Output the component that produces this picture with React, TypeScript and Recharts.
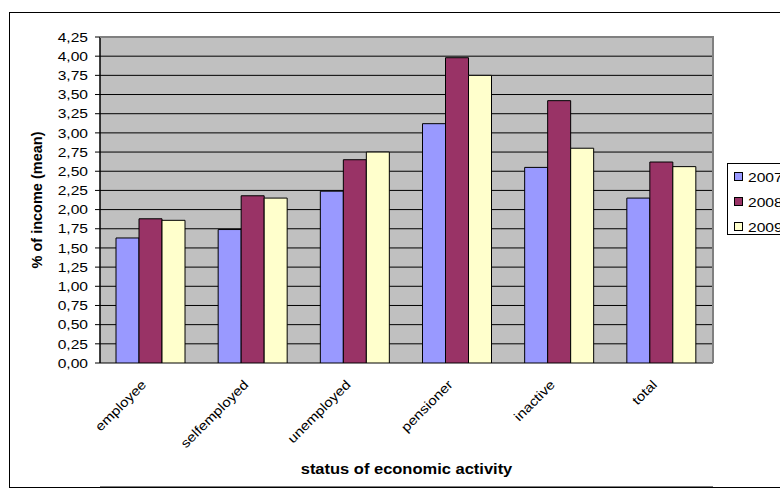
import React from 'react';
import { BarChart, Bar, XAxis, YAxis, CartesianGrid } from 'recharts';

const categories = ['employee', 'selfemployed', 'unemployed', 'pensioner', 'inactive', 'total'];
const values2007 = [1.63, 1.74, 2.24, 3.12, 2.55, 2.15];
const values2008 = [1.88, 2.18, 2.65, 3.98, 3.42, 2.62];
const values2009 = [1.86, 2.15, 2.75, 3.75, 2.8, 2.56];
const seriesNames = ['2007', '2008', '2009'];
const seriesColors = ['#9999FF', '#993366', '#FFFFCC'];
const yTicks = [0, 0.25, 0.5, 0.75, 1, 1.25, 1.5, 1.75, 2, 2.25, 2.5, 2.75, 3, 3.25, 3.5, 3.75, 4, 4.25];
const boundaryTicks = [0, 1, 2, 3, 4, 5, 6];
const yTitle = '% of income (mean)';
const xTitle = 'status of economic activity';

const data = categories.map((name, i) => ({
  name,
  s2007: values2007[i],
  s2008: values2008[i],
  s2009: values2009[i],
}));
const seriesKeys = ['s2007', 's2008', 's2009'];

const FONT = '"Liberation Sans", Arial, sans-serif';
const fmt = (v: number) => v.toFixed(2).replace('.', ',');

const YTick = (props: any) => {
  const { x, y, payload } = props;
  return (
    <text transform={`translate(${x},${y}) scale(1.2,1)`} textAnchor="end" dy="0.36em" fontSize={13} fill="#000" fontFamily={FONT}>
      {fmt(payload.value)}
    </text>
  );
};

const XTick = (props: any) => {
  const { x, y, payload } = props;
  return (
    <text transform={`translate(${x - 4},${y + 22.5}) rotate(-45) scale(1.17,1)`} textAnchor="end" fontSize={13} fill="#000" fontFamily={FONT}>
      {payload.value}
    </text>
  );
};

const EmptyTick = () => <g />;

const YLabel = (props: any) => {
  const vb = props.viewBox || { x: 0, y: 0, width: 0, height: 0 };
  return (
    <text transform={`translate(${vb.x + 42},${vb.y + vb.height / 2}) rotate(-90)`} textAnchor="middle" fontSize={14.5} fontWeight="bold" fill="#000" fontFamily={FONT}>
      {yTitle}
    </text>
  );
};

const XLabel = (props: any) => {
  const vb = props.viewBox || { x: 0, y: 0, width: 0, height: 0 };
  return (
    <text transform={`translate(${vb.x + vb.width / 2},${vb.y + 111}) scale(1.1,1)`} textAnchor="middle" fontSize={15} fontWeight="bold" fill="#000" fontFamily={FONT}>
      {xTitle}
    </text>
  );
};

const LegendBox = () => (
  <div style={{ position: 'absolute', left: 727, top: 163, width: 80, height: 72, border: '1px solid #000', background: '#fff', boxSizing: 'border-box' }}>
    <svg width={80} height={72} style={{ display: 'block' }}>
      {seriesNames.map((n, i) => (
        <g key={n}>
          <rect x={6.5} y={8.5 + i * 25} width={8} height={8} fill={seriesColors[i]} stroke="#000" strokeWidth={1} />
          <text transform={`translate(20,${17.5 + i * 25}) scale(1.2,1)`} fontSize={13} fill="#000" fontFamily={FONT}>
            {n}
          </text>
        </g>
      ))}
    </svg>
  </div>
);

export default function App() {
  return (
    <div style={{ position: 'absolute', left: 0, top: 0, width: 780, height: 488, overflow: 'hidden', background: '#fff', fontFamily: FONT }}>
      <div style={{ position: 'absolute', left: 9, top: 12, width: 800, height: 474, border: '1px solid #000' }} />
      <div style={{ position: 'absolute', left: 0, top: 0 }}>
        <BarChart width={780} height={488} data={data} margin={{ top: 37, right: 67, left: 0, bottom: 0 }} barCategoryGap={16} barGap={0}>
          <CartesianGrid xAxisId="cat" vertical={false} stroke="#000" fill="#C0C0C0" fillOpacity={1} />
          <XAxis xAxisId="grid" type="number" domain={[0, 6]} ticks={boundaryTicks} interval={0} tick={<EmptyTick />} tickSize={5} tickLine={{ stroke: '#000' }} axisLine={{ stroke: '#000' }} height={1} allowDataOverflow />
          <XAxis xAxisId="cat" dataKey="name" type="category" interval={0} tickLine={false} axisLine={false} tickSize={0} tickMargin={0} height={124} tick={<XTick />} label={{ content: <XLabel /> }} />
          <YAxis type="number" domain={[0, 4.25]} ticks={yTicks} interval={0} width={100} tickSize={5} tickMargin={7} tickLine={{ stroke: '#000' }} axisLine={{ stroke: '#000', strokeWidth: 1.5 }} tick={<YTick />} label={{ content: <YLabel /> }} allowDataOverflow />
          {seriesKeys.map((k, i) => (
            <Bar key={k} xAxisId="cat" dataKey={k} name={seriesNames[i]} fill={seriesColors[i]} stroke="#000" strokeWidth={1} isAnimationActive={false} />
          ))}
        </BarChart>
      </div>
      <div style={{ position: 'absolute', left: 100, top: 36, width: 614, height: 327, borderTop: '2px solid #808080', borderRight: '2px solid #808080', boxSizing: 'border-box', pointerEvents: 'none' }} />
      <LegendBox />
    </div>
  );
}
